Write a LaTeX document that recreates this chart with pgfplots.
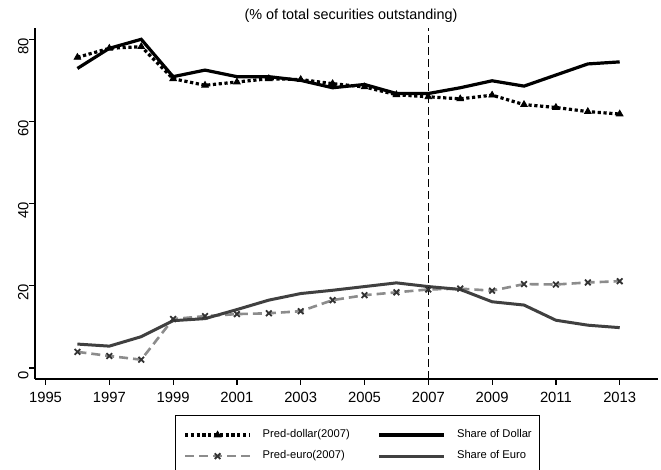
\documentclass[border=0pt]{standalone}
\usepackage{fontspec}
\setmainfont{Liberation Sans}
\usepackage{pgfplots}
\pgfplotsset{compat=1.18}
\begin{document}
\begin{tikzpicture}
\begin{axis}[
  at={(0,0)}, anchor=south west,
  scale only axis, width=311.5pt, height=175.5pt,
  xmin=1994.67, xmax=2014.2, ymin=-2.7, ymax=82.75,
  axis x line*=bottom, axis y line*=left,
  axis line style={line width=0.6pt, -},
  xtick={1995,1997,...,2013},
  ytick={0,20,40,60,80},
  tick align=outside, major tick length=3pt,
  tick style={black, line width=0.6pt},
  /pgf/number format/1000 sep={},
  /pgf/number format/assume math mode=true,
  xticklabel style={font=\fontsize{7.4}{8}\selectfont, anchor=north, inner sep=0pt, yshift=-3.5pt},
  yticklabel style={font=\fontsize{7.4}{8}\selectfont, rotate=90, anchor=south, inner sep=0pt, xshift=-3.5pt},
  legend columns=2,
  legend cell align=left,
  legend style={at={(axis description cs:0.2247,-0.1026)}, anchor=north west,
    draw=black, line width=0.5pt, font=\fontsize{5.6}{6}\selectfont,
    inner xsep=4pt, inner ysep=6.5pt, row sep=4pt, column sep=0pt,
    /tikz/every odd column/.append style={column sep=5.5pt},
    /tikz/every even column/.append style={column sep=14pt},
    nodes={inner xsep=0pt, inner ysep=0.5pt}},
  legend image code/.code={\draw[mark repeat=2, mark phase=2, #1] plot coordinates {(0pt,0pt) (16.25pt,0pt) (32.5pt,0pt)};},
]
% Pred-dollar(2007)
\addplot[black, line width=1.6pt, dash pattern=on 1.6pt off 1.3pt, mark=triangle*, mark size=1.9pt, mark options={solid, line width=0.4pt}] coordinates {
(1996,75.6) (1997,77.8) (1998,78.2) (1999,70.4) (2000,68.8) (2001,69.6) (2002,70.4) (2003,70.2) (2004,69.2) (2005,68.4) (2006,66.5) (2007,66.0) (2008,65.5) (2009,66.4) (2010,64.1) (2011,63.4) (2012,62.4) (2013,61.8)};
\addlegendentry{Pred-dollar(2007)}
% Share of Dollar
\addplot[black, line width=1.6pt, mark=none] coordinates {
(1996,72.9) (1997,77.8) (1998,80.0) (1999,70.9) (2000,72.5) (2001,70.9) (2002,70.9) (2003,70.0) (2004,68.2) (2005,69.0) (2006,66.8) (2007,66.8) (2008,68.2) (2009,69.9) (2010,68.6) (2011,71.3) (2012,74.0) (2013,74.5)};
\addlegendentry{Share of Dollar}
% Pred-euro(2007)
\addplot[black!45, line width=1.3pt, dash pattern=on 4.5pt off 2.5pt, mark=x, mark size=2pt, mark options={solid, black!80, line width=0.9pt}] coordinates {
(1996,3.9) (1997,2.9) (1998,2.0) (1999,11.9) (2000,12.6) (2001,13.1) (2002,13.3) (2003,13.8) (2004,16.5) (2005,17.7) (2006,18.4) (2007,19.1) (2008,19.3) (2009,18.8) (2010,20.4) (2011,20.3) (2012,20.8) (2013,21.1)};
\addlegendentry{Pred-euro(2007)}
% Share of Euro
\addplot[black!75, line width=1.5pt, mark=none] coordinates {
(1996,5.8) (1997,5.3) (1998,7.6) (1999,11.5) (2000,12.0) (2001,14.2) (2002,16.5) (2003,18.1) (2004,18.9) (2005,19.8) (2006,20.7) (2007,19.8) (2008,19.1) (2009,16.1) (2010,15.3) (2011,11.6) (2012,10.4) (2013,9.8)};
\addlegendentry{Share of Euro}
% vertical reference line
\addplot[black, line width=0.6pt, dash pattern=on 4pt off 2pt, forget plot] coordinates {(2007,-2.7) (2007,82.75)};
\end{axis}
\node[font=\fontsize{7.2}{8}\selectfont] at (158pt,181.5pt) {(\% of total securities outstanding)};
\pgfresetboundingbox
\useasboundingbox (-17.5pt,-45.5pt) rectangle (313pt,189.5pt);
\end{tikzpicture}
\end{document}
